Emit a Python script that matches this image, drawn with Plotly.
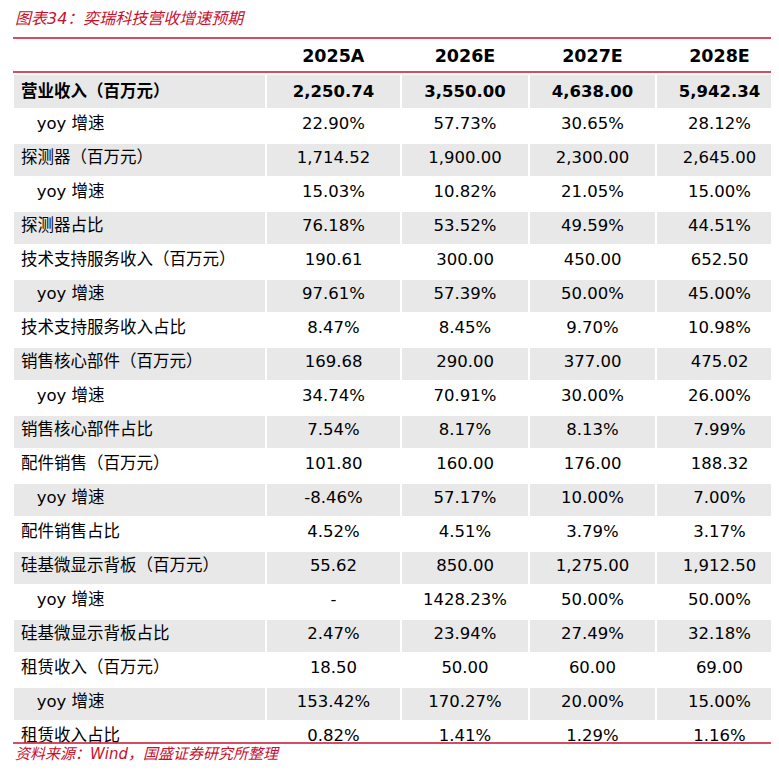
import plotly.graph_objects as go

years = ["2025A", "2026E", "2027E", "2028E"]
labels = ["营业收入（百万元）", "yoy 增速", "探测器（百万元）", "yoy 增速", "探测器占比",
          "技术支持服务收入（百万元）", "yoy 增速", "技术支持服务收入占比",
          "销售核心部件（百万元）", "yoy 增速", "销售核心部件占比",
          "配件销售（百万元）", "yoy 增速", "配件销售占比",
          "硅基微显示背板（百万元）", "yoy 增速", "硅基微显示背板占比",
          "租赁收入（百万元）", "yoy 增速", "租赁收入占比"]
v2025 = ["2,250.74", "22.90%", "1,714.52", "15.03%", "76.18%", "190.61", "97.61%", "8.47%",
         "169.68", "34.74%", "7.54%", "101.80", "-8.46%", "4.52%", "55.62", "-", "2.47%",
         "18.50", "153.42%", "0.82%"]
v2026 = ["3,550.00", "57.73%", "1,900.00", "10.82%", "53.52%", "300.00", "57.39%", "8.45%",
         "290.00", "70.91%", "8.17%", "160.00", "57.17%", "4.51%", "850.00", "1428.23%", "23.94%",
         "50.00", "170.27%", "1.41%"]
v2027 = ["4,638.00", "30.65%", "2,300.00", "21.05%", "49.59%", "450.00", "50.00%", "9.70%",
         "377.00", "30.00%", "8.13%", "176.00", "10.00%", "3.79%", "1,275.00", "50.00%", "27.49%",
         "60.00", "20.00%", "1.29%"]
v2028 = ["5,942.34", "28.12%", "2,645.00", "15.00%", "44.51%", "652.50", "45.00%", "10.98%",
         "475.02", "26.00%", "7.99%", "188.32", "7.00%", "3.17%", "1,912.50", "50.00%", "32.18%",
         "69.00", "15.00%", "1.16%"]

RED = "#c8102e"
FONT = "DejaVu Sans, Noto Sans CJK SC"

def fmt_label(s, i):
    if s.startswith("yoy"):
        s = "\u00a0\u00a0\u00a0" + s
    return "<b>" + s + "</b>" if i == 0 else s

def fmt_val(vals):
    return ["<b>" + v + "</b>" if i == 0 else v for i, v in enumerate(vals)]

fills = ["#e8e8e8" if i % 2 == 0 else "white" for i in range(len(labels))]

fig = go.Figure(go.Table(
    columnwidth=[253, 135, 128, 127, 127],
    header=dict(values=[""] + ["<b>" + y + "</b>" for y in years],
                fill_color="white", line_color="white", height=34,
                align=["left", "center"], font=dict(family=FONT, size=17.5, color="black")),
    cells=dict(values=[[fmt_label(s, i) for i, s in enumerate(labels)],
                       fmt_val(v2025), fmt_val(v2026), fmt_val(v2027), fmt_val(v2028)],
               fill_color=[fills] * 5, line=dict(color="white", width=2), height=34,
               align=["left", "center"], font=dict(family=FONT, size=16.5, color="black")),
))

fig.update_layout(
    width=779, height=780, margin=dict(l=5, r=4, t=30, b=33),
    paper_bgcolor="white",
    annotations=[
        dict(text="<i>图表34：奕瑞科技营收增速预期</i>", x=0, y=1, xref="paper", yref="paper",
             xanchor="left", yanchor="bottom", yshift=8, showarrow=False,
             font=dict(family=FONT, size=16, color=RED)),
        dict(text="<i>资料来源：Wind，国盛证券研究所整理</i>", x=0, y=0, xref="paper", yref="paper",
             xanchor="left", yanchor="top", yshift=12, showarrow=False,
             font=dict(family=FONT, size=15, color=RED)),
    ],
    shapes=[
        dict(type="line", xref="paper", yref="paper", x0=0, x1=1, y0=1, y1=1,
             line=dict(color=RED, width=1.5)),
        dict(type="line", xref="paper", yref="paper", x0=0, x1=1, y0=1 - 34 / 717, y1=1 - 34 / 717,
             line=dict(color=RED, width=1.5)),
        dict(type="line", xref="paper", yref="paper", x0=0, x1=1, y0=12 / 717, y1=12 / 717,
             line=dict(color=RED, width=1.5)),
    ],
)

fig.write_html("out.html")
